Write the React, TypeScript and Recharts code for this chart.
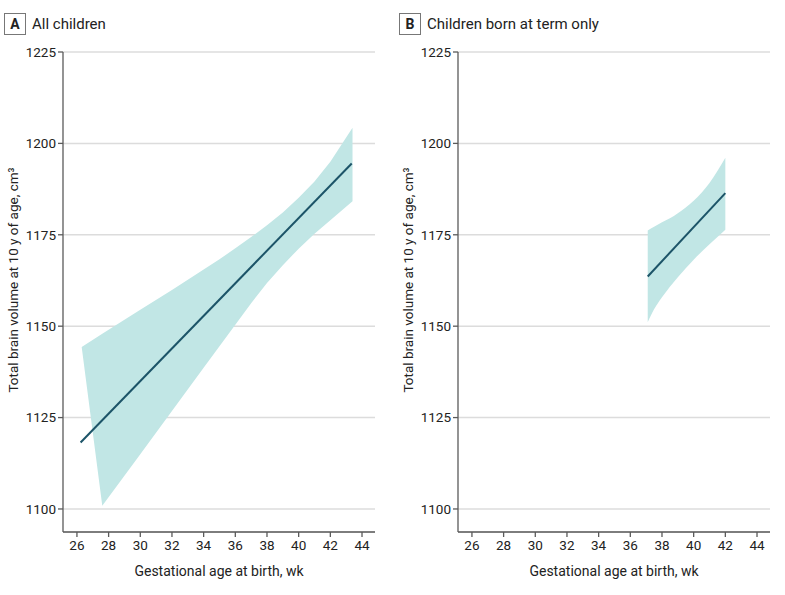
import React from "react";
import { ComposedChart, Area, Line, XAxis, YAxis, CartesianGrid, Label } from "recharts";

// Axis ticks
const xTicks = [26, 28, 30, 32, 34, 36, 38, 40, 42, 44];
const yTicks = [1100, 1125, 1150, 1175, 1200, 1225];

// Panel A: all children
const bandAx = [26.3, 27.6, 30, 32, 34, 35, 36, 37, 38, 39, 40, 41, 42, 43.4];
const bandAlow = [1144.3, 1100.9, 1115.0, 1126.8, 1138.6, 1144.5, 1150.4, 1156.3, 1161.8, 1166.7, 1171.2, 1175.3, 1179.0, 1184.2];
const bandAhigh = [1144.3, 1147.9, 1154.5, 1159.9, 1165.5, 1168.3, 1171.3, 1174.4, 1177.6, 1181.1, 1185.1, 1189.6, 1195.0, 1204.3];
const lineAx = [26.23, 43.35];
const lineAy = [1118.2, 1194.5];

// Panel B: children born at term only
const bandBx = [37.1, 37.5, 38, 38.5, 39, 40, 41, 42];
const bandBlow = [1151.1, 1154.6, 1157.9, 1160.8, 1163.4, 1168.2, 1172.4, 1176.4];
const bandBhigh = [1176.2, 1177.2, 1178.4, 1179.5, 1180.9, 1184.3, 1189.2, 1196.1];
const lineBx = [37.1, 42];
const lineBy = [1163.6, 1186.4];

type Row = { x: number; band?: [number, number]; fit?: number };

function buildRows(bx: number[], lo: number[], hi: number[], lx: number[], ly: number[]): Row[] {
  const m = new Map<number, Row>();
  bx.forEach((x, i) => m.set(x, { x, band: [lo[i], hi[i]] }));
  lx.forEach((x, i) => {
    const r = m.get(x) || { x };
    r.fit = ly[i];
    m.set(x, r);
  });
  return Array.from(m.values()).sort((a, b) => a.x - b.x);
}

const rowsA = buildRows(bandAx, bandAlow, bandAhigh, lineAx, lineAy);
const rowsB = buildRows(bandBx, bandBlow, bandBhigh, lineBx, lineBy);

const FONT = "Roboto, 'Noto Sans', sans-serif";
const BAND = "#c1e6e5";
const LINE = "#1c5468";
const AXIS = "#5a5a5a";

function YLabel(props: any) {
  const vb = props.viewBox || { x: 0, y: 0, width: 0, height: 0 };
  const cx = vb.x + 8;
  const cy = vb.y + vb.height / 2 - 12;
  return (
    <text
      transform={`translate(${cx},${cy}) rotate(-90)`}
      textAnchor="middle"
      dominantBaseline="central"
      fontFamily={FONT}
      fontSize={13.5}
      fill="#222"
    >
      Total brain volume at 10 y of age, cm³
    </text>
  );
}

function Panel({ rows, left, letter, title, curve }: { rows: Row[]; left: number; letter: string; title: string; curve: any }) {
  return (
    <div style={{ position: "absolute", left, top: 0, width: 390, height: 595 }}>
      <div
        style={{
          position: "absolute",
          left: 4,
          top: 13,
          width: 20,
          height: 20,
          border: "1px solid #777",
          fontFamily: FONT,
          fontWeight: 700,
          fontSize: 14,
          lineHeight: "20px",
          textAlign: "center",
          color: "#222",
        }}
      >
        {letter}
      </div>
      <div
        style={{
          position: "absolute",
          left: 32,
          top: 13,
          height: 22,
          lineHeight: "22px",
          fontFamily: FONT,
          fontSize: 15,
          color: "#222",
          whiteSpace: "nowrap",
        }}
      >
        {title}
      </div>
      <ComposedChart
        width={390}
        height={595}
        data={rows}
        margin={{ top: 52, right: 15, left: 5, bottom: 19 }}
        style={{ position: "absolute", left: 0, top: 0 }}
      >
        <CartesianGrid horizontal vertical={false} stroke="#dcdcdc" strokeWidth={1.5} />
        <XAxis
          type="number"
          dataKey="x"
          domain={[25.12, 44.82]}
          ticks={xTicks}
          allowDataOverflow
          height={44}
          tickSize={5}
          tickMargin={3}
          stroke={AXIS}
          strokeWidth={1.3}
          tick={{ fontFamily: FONT, fontSize: 13.5, fill: "#222" }}
        >
          <Label
            value="Gestational age at birth, wk"
            position="insideBottom"
            offset={0}
            style={{ fontFamily: FONT, fontSize: 14, fill: "#222" }}
          />
        </XAxis>
        <YAxis
          type="number"
          domain={[1093.7, 1225]}
          ticks={yTicks}
          allowDataOverflow
          width={58}
          tickSize={5}
          tickMargin={2}
          stroke={AXIS}
          strokeWidth={1.3}
          tick={{ fontFamily: FONT, fontSize: 13.5, fill: "#222" }}
        >
          <Label content={<YLabel />} />
        </YAxis>
        <Area
          type={curve}
          dataKey="band"
          stroke="none"
          fill={BAND}
          fillOpacity={1}
          connectNulls
          isAnimationActive={false}
          dot={false}
          activeDot={false}
        />
        <Line
          type="linear"
          dataKey="fit"
          stroke={LINE}
          strokeWidth={2}
          connectNulls
          dot={false}
          activeDot={false}
          isAnimationActive={false}
        />
      </ComposedChart>
    </div>
  );
}

export default function App() {
  return (
    <div style={{ position: "absolute", left: 0, top: 0, width: 785, height: 595, background: "#fff" }}>
      <Panel rows={rowsA} left={0} letter="A" title="All children" curve="linear" />
      <Panel rows={rowsB} left={395} letter="B" title="Children born at term only" curve="monotoneX" />
    </div>
  );
}
